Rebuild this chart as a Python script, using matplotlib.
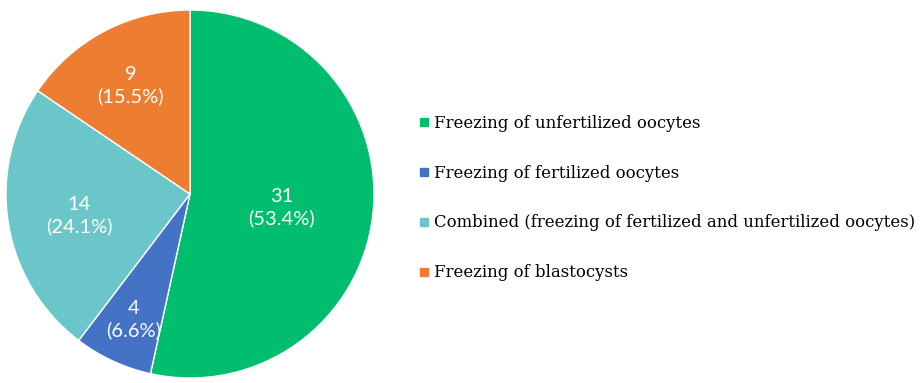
"""Pie chart of cryopreservation approaches with legend on the right."""
import numpy as np
import matplotlib.pyplot as plt
from matplotlib.lines import Line2D

categories = [
    'Freezing of unfertilized oocytes',
    'Freezing of fertilized oocytes',
    'Combined (freezing of fertilized and unfertilized oocytes)',
    'Freezing of blastocysts',
]
counts = [31, 4, 14, 9]
pct_labels = ['53.4%', '6.6%', '24.1%', '15.5%']
colors = ['#00BE6E', '#4472C4', '#6BC6CA', '#ED7D31']
# how far from the centre each label sits (fraction of radius)
label_radius = [0.50, 0.73, 0.61, 0.69]

W, H = 921, 383
fig = plt.figure(figsize=(W / 100, H / 100), dpi=100)

cx, cy, r = 190, 194, 184
ax = fig.add_axes([(cx - r) / W, (H - cy - r) / H, 2 * r / W, 2 * r / H])
wedges, _ = ax.pie(counts, colors=colors, startangle=90, counterclock=False,
                   wedgeprops=dict(edgecolor='white', linewidth=1.0))
ax.set_xlim(-1, 1)
ax.set_ylim(-1, 1)
ax.set_aspect('equal')
ax.axis('off')

# value labels in white, placed at the middle angle of each wedge
for w, n, p, rad in zip(wedges, counts, pct_labels, label_radius):
    mid = np.deg2rad((w.theta1 + w.theta2) / 2)
    ax.text(rad * np.cos(mid), rad * np.sin(mid) - 0.02, f'{n}\n({p})',
            ha='center', va='center', color='white', fontsize=14.5,
            family='Lato', linespacing=1.3)

handles = [Line2D([], [], marker='s', linestyle='', markersize=6,
                  markerfacecolor=c, markeredgecolor=c) for c in colors]
fig.legend(handles, categories, loc='center left',
           bbox_to_anchor=(412 / W, (H - 198) / H), frameon=False,
           prop=dict(family='DejaVu Serif', size=11.9),
           handlelength=0.6, handletextpad=0.35, labelspacing=1.99,
           borderaxespad=0)

fig.savefig('out.png', dpi=100, facecolor='white')
